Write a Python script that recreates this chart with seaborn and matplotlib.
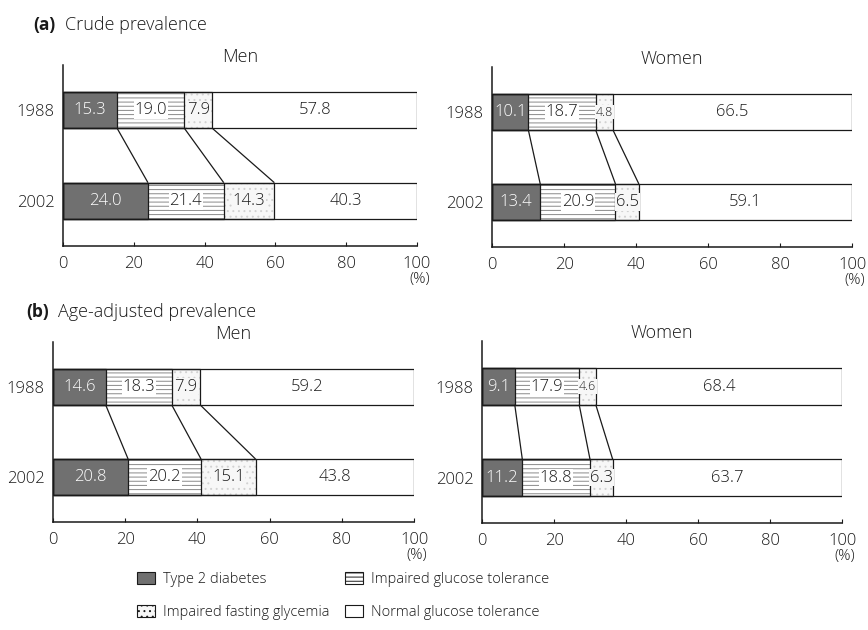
import numpy as np
import pandas as pd
import matplotlib
matplotlib.use("Agg")
import matplotlib.pyplot as plt
from matplotlib.patches import Patch
import seaborn as sns

# ---- data -------------------------------------------------------------
years = ["1988", "2002"]
categories = ["Type 2 diabetes", "Impaired glucose tolerance",
              "Impaired fasting glycemia", "Normal glucose tolerance"]

crude_men_1988 = [15.3, 19.0, 7.9, 57.8]
crude_men_2002 = [24.0, 21.4, 14.3, 40.3]
crude_women_1988 = [10.1, 18.7, 4.8, 66.5]
crude_women_2002 = [13.4, 20.9, 6.5, 59.1]

adj_men_1988 = [14.6, 18.3, 7.9, 59.2]
adj_men_2002 = [20.8, 20.2, 15.1, 43.8]
adj_women_1988 = [9.1, 17.9, 4.6, 68.4]
adj_women_2002 = [11.2, 18.8, 6.3, 63.7]

x_ticks = [0, 20, 40, 60, 80, 100]

# ---- styling ----------------------------------------------------------
sns.set_style("white")
plt.rcParams["font.family"] = ["Open Sans", "DejaVu Sans"]
plt.rcParams["hatch.linewidth"] = 0.7

FONT = 12
INK = "#1a1a1a"
BAR_W = 0.4

# fill colour, hatch pattern and hatch colour for each category
face = ["#707070", "white", "#f7f7f7", "white"]
hatch = [None, "----", "...", None]
hatch_col = ["#707070", "#8a8a8a", "#d2d2d2", "white"]
text_col = ["white", INK, INK, INK]


def draw_panel(ax, v1988, v2002, title):
    vals = np.array([v1988, v2002])
    cum = np.cumsum(vals, axis=1)

    # filled layers: cumulative bars drawn from the widest to the narrowest
    for k in range(3, -1, -1):
        df = pd.DataFrame({"year": years, "end": cum[:, k]})
        n0 = len(ax.patches)
        sns.barplot(data=df, x="end", y="year", orient="h", width=BAR_W,
                    color="white", saturation=1, errorbar=None, ax=ax)
        for p in ax.patches[n0:]:
            p.set_facecolor(face[k])
            p.set_edgecolor(hatch_col[k])
            p.set_hatch(hatch[k])
            p.set_linewidth(0)

    # outlines on top of the fills
    for k in range(3, -1, -1):
        df = pd.DataFrame({"year": years, "end": cum[:, k]})
        n0 = len(ax.patches)
        sns.barplot(data=df, x="end", y="year", orient="h", width=BAR_W,
                    color="white", saturation=1, errorbar=None, ax=ax)
        for p in ax.patches[n0:]:
            p.set_facecolor("none")
            p.set_edgecolor(INK)
            p.set_hatch(None)
            p.set_linewidth(0.9)

    # connectors between the segment boundaries of the two years
    for k in range(3):
        ax.plot([cum[0, k], cum[1, k]], [0 + BAR_W / 2, 1 - BAR_W / 2],
                color=INK, lw=0.9, solid_capstyle="butt")

    # value labels
    for i in range(2):
        left = cum[i] - vals[i]
        for k in range(4):
            v = vals[i, k]
            cx = left[k] + v / 2
            size = FONT if v >= 5.5 else 9
            bbox = None
            if k in (1, 2):
                bbox = dict(boxstyle="square,pad=0.05",
                            fc=face[k], ec="none")
            ax.text(cx, i, f"{v:.1f}", ha="center", va="center",
                    fontsize=size, color=text_col[k], bbox=bbox,
                    fontweight="light", zorder=5)

    ax.set_xlim(0, 100)
    ax.set_ylim(1.5, -0.5)
    ax.set_xticks(x_ticks)
    ax.set_xticklabels([str(t) for t in x_ticks])
    ax.set_xlabel("")
    ax.set_ylabel("")
    ax.set_title(title, fontsize=13, pad=2, color=INK, fontweight="light")
    ax.tick_params(axis="x", direction="in", length=3, width=0.8,
                   labelsize=FONT, pad=7, colors=INK, bottom=True)
    ax.tick_params(axis="y", length=0, labelsize=FONT, pad=6, colors=INK)
    for lab in ax.get_xticklabels() + ax.get_yticklabels():
        lab.set_fontweight("light")
    for side in ("top", "right"):
        ax.spines[side].set_visible(False)
    for side in ("left", "bottom"):
        ax.spines[side].set_color(INK)
        ax.spines[side].set_linewidth(1.1)
    ax.annotate("(%)", xy=(100, 0), xycoords=("data", "axes fraction"),
                xytext=(2, -24), textcoords="offset points",
                ha="center", va="center", fontsize=FONT - 1, color=INK,
                fontweight="light")


W, H = 868, 630
fig = plt.figure(figsize=(W / 100, H / 100), dpi=100)


def add_axes(x0, x1, ytop, ybot):
    return fig.add_axes([x0 / W, 1 - ybot / H, (x1 - x0) / W, (ybot - ytop) / H])


ax_a_men = add_axes(63, 417, 65, 246)
ax_a_women = add_axes(492, 852, 67, 247)
ax_b_men = add_axes(53, 414, 342, 522)
ax_b_women = add_axes(482, 842, 341, 523)

draw_panel(ax_a_men, crude_men_1988, crude_men_2002, "Men")
draw_panel(ax_a_women, crude_women_1988, crude_women_2002, "Women")
draw_panel(ax_b_men, adj_men_1988, adj_men_2002, "Men")
draw_panel(ax_b_women, adj_women_1988, adj_women_2002, "Women")

# panel headings
fig.text(33 / W, 1 - 25 / H, "(a)", fontsize=12.5, fontweight="bold",
         va="center", color=INK)
fig.text(65 / W, 1 - 25 / H, "Crude prevalence", fontsize=13,
         fontweight="light", va="center", color=INK)
fig.text(26 / W, 1 - 312 / H, "(b)", fontsize=12.5, fontweight="bold",
         va="center", color=INK)
fig.text(58 / W, 1 - 312 / H, "Age-adjusted prevalence", fontsize=13,
         fontweight="light", va="center", color=INK)


# legend: two single-column blocks placed side by side
def legend_block(keys, x_px):
    handles = [Patch(facecolor=face[k], edgecolor=INK, linewidth=0.8,
                     hatch=hatch[k], label=categories[k]) for k in keys]
    leg = fig.legend(handles=handles, loc="upper left",
                     bbox_to_anchor=(x_px / W, 1 - 572 / H), frameon=False,
                     fontsize=10.5, handlelength=1.25, handleheight=0.85,
                     handletextpad=0.5, labelspacing=1.25,
                     borderpad=0, borderaxespad=0)
    for t in leg.get_texts():
        t.set_fontweight("light")
        t.set_color(INK)
    return leg


legend_block((0, 2), 137)
legend_block((1, 3), 345)

fig.savefig("out.png", dpi=100)
